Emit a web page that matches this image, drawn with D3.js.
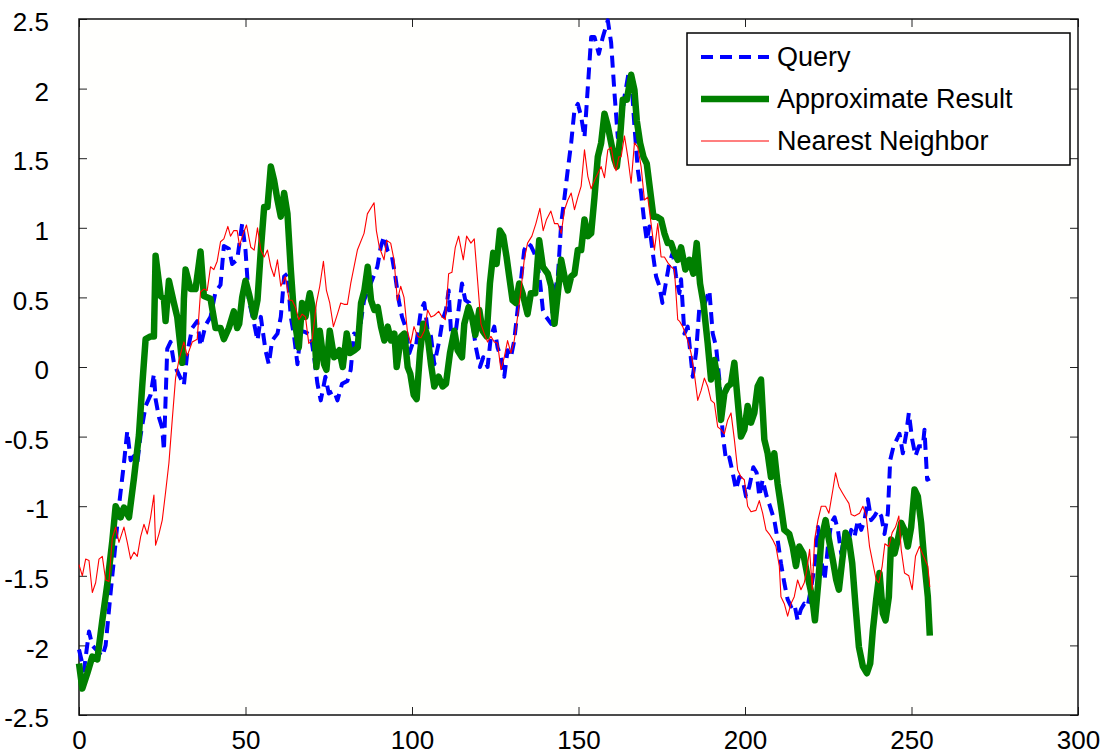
<!DOCTYPE html>
<html>
<head>
<meta charset="utf-8">
<script src="https://cdn.jsdelivr.net/npm/d3@7"></script>
<style>
  body { margin: 0; background: #fff; }
  text { font-family: "Liberation Sans", Arial, Helvetica, sans-serif; fill: #000; }
</style>
</head>
<body>
<svg id="chart"></svg>
<script>
// series, as [index, value]
const querySeries = [[0,-2.03],[1.5,-2.18],[3,-1.9],[4,-2.0],[7,-2.08],[8,-2.0],[9.5,-1.62],[11,-1.26],[12,-1.0],[13.5,-0.69],[14.5,-0.46],[15.5,-0.67],[16.5,-0.64],[17.5,-0.69],[18.5,-0.49],[20,-0.28],[21.5,-0.2],[22.5,-0.05],[23,-0.23],[24,-0.36],[25,-0.44],[25.5,-0.6],[26.5,0.13],[27.5,0.18],[28.5,0.03],[29.5,-0.03],[31.5,-0.13],[32.5,0.1],[34,0.28],[35.5,0.33],[36.5,0.15],[38,0.3],[39.5,0.36],[41,0.54],[42.5,0.59],[43.5,0.87],[45,0.85],[46,0.74],[47.5,0.77],[49,1.03],[50,0.84],[51,0.48],[52.6,0.31],[53.6,0.19],[54.6,0.36],[56,0.12],[57,0.02],[58,0.19],[59.6,0.24],[60.6,0.36],[61.6,0.65],[62.6,0.67],[63.6,0.36],[64.6,0.22],[65.6,0.02],[66.6,0.26],[68,0.25],[69.6,0.23],[70.6,0.07],[71.6,-0.12],[72.6,-0.24],[74,-0.07],[75,-0.19],[76.6,-0.17],[77.6,-0.24],[79,-0.12],[80.6,-0.1],[81.6,-0.02],[82.6,0.24],[84,0.22],[85.6,0.48],[87.6,0.6],[89.6,0.72],[90.6,0.86],[91.6,0.94],[92.6,0.84],[94,0.79],[95,0.65],[96,0.48],[97,0.36],[98,0.29],[99.2,0.1],[100.2,0.17],[101.2,0.15],[102.7,0.41],[103.7,0.46],[104.7,0.26],[105.7,0.22],[106.7,0.02],[108.2,0.19],[109.2,0.34],[110.2,0.41],[111,0.55],[111.7,0.26],[112.7,0.17],[113.7,0.36],[115,0.6],[116,0.48],[117.2,0.46],[118.2,0.31],[119.2,0.14],[120.4,0],[121.4,0.07],[122.7,0],[123.7,0.22],[124.7,0.29],[125.7,0.14],[126.7,0.07],[127.7,-0.07],[128.7,0.12],[129.7,0.07],[130.7,0.19],[131.7,0.41],[132.7,0.62],[133.7,0.84],[134.7,0.89],[135.7,0.87],[136.7,0.82],[137.7,0.74],[138.5,0.6],[139.3,0.41],[140.3,0.36],[141.8,0.31],[142.8,0.53],[143.8,0.65],[144.8,1.03],[145.8,1.22],[146.8,1.42],[147.8,1.61],[148.8,1.85],[149.8,1.89],[150.8,1.8],[151.8,1.65],[152.8,2.01],[153.8,2.37],[154.8,2.37],[156.1,2.25],[157.3,2.37],[158.8,2.49],[159.8,2.33],[160.8,1.97],[161.8,1.65],[162.8,1.73],[163.8,1.94],[165.1,2.12],[165.8,2.09],[166.8,1.73],[167.8,1.42],[168.8,1.25],[169.8,1.03],[170.5,0.91],[171.3,1.01],[172.3,0.82],[173.3,0.65],[174.3,0.58],[175.2,0.46],[176.2,0.6],[177.3,0.75],[178.3,0.82],[179.3,0.65],[180.3,0.53],[180.8,0.63],[181.8,0.24],[182.8,0.29],[184.3,-0.07],[185.3,0.1],[186.3,0.43],[187.8,0.45],[189.3,0.55],[190.3,0.24],[191.3,0.15],[192.3,-0.09],[193.3,-0.48],[194.3,-0.67],[195.3,-0.65],[196.3,-0.76],[197.3,-0.88],[198.3,-0.79],[199.3,-0.81],[200.3,-0.93],[201.3,-0.86],[202.5,-0.72],[203.5,-0.76],[204.3,-0.93],[205.3,-0.81],[206.5,-0.93],[207.5,-1.0],[208.8,-1.1],[209.8,-1.24],[210.8,-1.41],[211.8,-1.55],[212.8,-1.67],[213.8,-1.72],[214.8,-1.7],[215.8,-1.82],[216.8,-1.74],[217.8,-1.7],[218.8,-1.72],[219.9,-1.58],[220.9,-1.43],[221.9,-1.15],[222.9,-1.39],[223.9,-1.53],[224.9,-1.29],[225.9,-1.12],[226.9,-1.08],[227.9,-1.17],[228.9,-1.34],[229.9,-1.2],[230.9,-1.27],[231.9,-1.17],[232.9,-1.22],[233.9,-1.1],[234.9,-1.17],[235.9,-1.1],[236.9,-0.95],[237.9,-1.1],[238.9,-1.07],[239.9,-1.03],[240.9,-1.07],[241.9,-1.2],[242.9,-1.05],[243.6,-0.67],[244.6,-0.57],[245.6,-0.52],[246.4,-0.48],[247.4,-0.62],[248.4,-0.48],[249.2,-0.33],[250.2,-0.52],[251.2,-0.64],[252.2,-0.57],[253.4,-0.57],[253.9,-0.45],[254.7,-0.81],[255.5,-0.8]];

const approxSeries = [[0,-2.13],[1,-2.31],[2.5,-2.2],[4,-2.08],[5.5,-2.1],[7,-1.82],[8.5,-1.56],[10,-1.25],[11,-1.0],[12.5,-1.08],[13.5,-1.01],[15,-1.08],[16.5,-0.8],[18,-0.49],[19,-0.13],[20,0.2],[21.5,0.22],[22.5,0.22],[23,0.8],[24.5,0.51],[25.5,0.49],[26,0.33],[27,0.62],[28.5,0.46],[29.5,0.36],[31,0.03],[31.5,0.49],[32,0.7],[33.5,0.56],[35,0.56],[36.5,0.83],[37.5,0.51],[39.5,0.49],[41,0.28],[42.5,0.28],[43.5,0.2],[45,0.28],[46.5,0.4],[47.5,0.28],[48.1,0.31],[49,0.5],[50,0.62],[51,0.53],[52.6,0.36],[53.6,0.48],[54.6,0.84],[55.6,1.15],[56.6,1.15],[57.6,1.44],[58.6,1.34],[59.6,1.2],[60.6,1.08],[61.6,1.25],[62.6,1.1],[63.6,0.7],[64.6,0.36],[66,0.14],[67,0.46],[68,0.36],[69.3,0.53],[70.3,0.41],[71.3,0],[72.3,0.26],[73.6,0.02],[74.3,-0.02],[75.3,0.26],[76.6,0.07],[78.2,0.12],[79.2,0],[80.4,0.24],[81.4,0.1],[82.7,0.12],[83.7,0.14],[84.7,0.46],[85.7,0.55],[86.7,0.72],[87.7,0.48],[88.7,0.41],[89.7,0.43],[90.7,0.29],[91.7,0.19],[92.7,0.29],[93.7,0.19],[94.7,0.24],[95.4,0],[96.7,0.22],[97.7,0.24],[98.7,0],[99.5,-0.05],[100.5,-0.2],[101.4,-0.23],[102.4,0.1],[103.4,0.31],[104.7,0.22],[105.7,0.02],[106.7,-0.14],[108,-0.07],[109.2,-0.14],[110.2,-0.12],[111.4,0.1],[112.7,0.26],[113.7,0.12],[115,0.07],[115.7,0.31],[117,0.43],[118,0.36],[119,0.23],[120.2,0.41],[121.2,0.26],[122.4,0.22],[123.4,0.6],[124.4,0.82],[125.4,0.74],[126.4,0.98],[127.4,0.94],[128.4,0.79],[129.2,0.65],[130.2,0.48],[131.2,0.46],[132.2,0.6],[133.2,0.53],[134.7,0.38],[135.7,0.53],[137,0.53],[138.2,0.91],[139.3,0.72],[140.8,0.67],[141.8,0.58],[142.8,0.31],[143.8,0.53],[144.8,0.77],[145.8,0.65],[146.8,0.55],[147.8,0.65],[148.8,0.67],[149.8,0.84],[150.8,0.84],[151.8,1.06],[152.8,0.94],[153.8,0.96],[154.8,1.22],[155.8,1.51],[156.8,1.61],[157.8,1.82],[158.8,1.73],[159.8,1.61],[160.8,1.49],[161.5,1.44],[162.5,1.65],[163.3,1.92],[164.5,1.92],[165.8,2.1],[166.8,1.99],[167.5,1.77],[168.5,1.61],[169.5,1.51],[170.5,1.46],[171.5,1.27],[172.5,1.08],[173.5,1.08],[174.8,1.06],[175.8,0.96],[176.8,0.89],[177.8,0.89],[178.8,0.82],[179.8,0.77],[180.8,0.86],[182.1,0.7],[183.3,0.77],[184.5,0.67],[185.5,0.89],[186.5,0.6],[187.5,0.46],[188.8,0.17],[189.8,-0.09],[190.8,0.05],[191.8,-0.09],[192.8,-0.38],[193.8,-0.19],[194.8,-0.14],[195.8,-0.12],[196.8,0.03],[197.8,-0.24],[198.8,-0.5],[199.8,-0.45],[200.8,-0.28],[201.8,-0.4],[202.8,-0.33],[203.8,-0.14],[204.8,-0.09],[205.8,-0.52],[206.8,-0.62],[207.8,-0.79],[208.8,-0.62],[209.8,-0.84],[210.8,-1.0],[211.8,-1.17],[213.3,-1.2],[214.3,-1.29],[215.3,-1.43],[216.3,-1.29],[217.5,-1.34],[218.6,-1.48],[219.7,-1.6],[220.5,-1.72],[221,-1.82],[222,-1.55],[222.9,-1.24],[224.2,-1.1],[225.2,-1.24],[226.4,-1.39],[227.4,-1.53],[228.2,-1.6],[229.2,-1.39],[230.2,-1.19],[231.2,-1.24],[232.2,-1.41],[233.2,-1.72],[234.2,-2.01],[235.4,-2.15],[236.6,-2.2],[237.6,-2.13],[238.4,-1.89],[239.4,-1.67],[240.4,-1.48],[241.4,-1.77],[242.2,-1.82],[243.2,-1.65],[243.9,-1.24],[244.9,-1.34],[245.9,-1.24],[246.9,-1.12],[247.9,-1.17],[248.9,-1.29],[249.9,-1.15],[250.9,-0.88],[251.9,-0.93],[252.9,-1.12],[253.9,-1.41],[254.9,-1.65],[255.5,-1.93]];

const nearestSeries = [[0,-1.42],[1,-1.5],[2,-1.38],[3,-1.39],[4,-1.62],[5,-1.55],[6,-1.38],[7,-1.36],[8,-1.53],[9,-1.54],[10,-1.23],[11,-1.15],[12,-1.26],[13.5,-1.15],[14.5,-1.26],[15.5,-1.38],[16.5,-1.33],[17.5,-1.36],[18.5,-1.22],[19.5,-1.13],[20.5,-1.2],[21.5,-1.08],[22.5,-0.92],[23,-1.28],[24,-1.2],[25,-1.1],[26,-0.9],[27,-0.69],[28,-0.38],[29,-0.08],[30,0.05],[31.5,0.18],[32.5,0.08],[34,0.18],[35.5,0.2],[36.5,0.54],[37.5,0.56],[38.5,0.55],[39.5,0.72],[40.5,0.7],[41.5,0.76],[42.5,0.9],[43.5,0.92],[44.7,1.01],[45.5,0.94],[46.5,0.98],[47.5,0.98],[48.2,0.87],[49.2,0.95],[50.3,1.02],[51.6,0.86],[52.6,0.84],[53.6,1.0],[54.6,0.84],[55.6,0.79],[56.6,0.84],[57.6,0.72],[58.6,0.65],[59.6,0.77],[60.6,0.58],[62,0.65],[63.1,0.48],[64,0.48],[65,0.43],[66,0.34],[67,0.38],[68,0.36],[69,0.17],[70,0.19],[71.3,0.46],[72.3,0.58],[73.4,0.76],[74.3,0.55],[75.3,0.46],[76.4,0.29],[77.6,0.38],[78.6,0.46],[79.6,0.45],[80.6,0.45],[81.6,0.6],[83.6,0.84],[85.6,0.96],[86.6,1.1],[88.6,1.18],[89.3,0.98],[90.2,0.86],[91.6,0.77],[92.4,0.91],[93.6,0.89],[94.6,0.77],[95.6,0.48],[96.6,0.58],[97.6,0.5],[98.6,0.26],[99.6,0.17],[100.6,0.29],[101.7,0.22],[102.7,0.21],[103.7,0.26],[104.7,0.41],[105.7,0.36],[106.7,0.37],[108,0.4],[109,0.36],[110,0.34],[111,0.67],[112,0.68],[113,0.86],[114,0.94],[115.4,0.77],[116.4,0.94],[117.7,0.89],[118.7,0.92],[119.7,0.62],[120.7,0.31],[121.7,0.24],[122.7,0.18],[123.7,0.22],[124.7,0.18],[125.7,0.17],[126.7,-0.02],[127.7,0.07],[128.7,0.19],[129.7,0.1],[130.7,0.19],[131.7,0.36],[132.7,0.55],[133.7,0.77],[134.7,0.89],[136,0.94],[137.2,1.03],[138.4,1.14],[139.4,0.98],[140.4,1.06],[141.7,1.12],[142.8,1.03],[143.8,1.03],[144.8,0.96],[145.8,1.13],[146.8,1.2],[147.8,1.25],[148.8,1.13],[149.8,1.22],[150.8,1.3],[151.8,1.56],[152.8,1.37],[153.8,1.28],[154.8,1.34],[155.8,1.39],[156.8,1.44],[157.8,1.36],[158.8,1.56],[159.8,1.58],[160.8,1.44],[161.3,1.41],[162.1,1.51],[162.8,1.51],[163.8,1.66],[164.8,1.51],[165.8,1.32],[166.8,1.61],[167.8,1.58],[168.8,1.44],[169.8,1.2],[170.8,1.22],[171.8,1.03],[172.8,0.84],[173.8,1.03],[174.8,0.79],[175.8,0.79],[176.8,0.75],[177.8,0.72],[178.8,0.7],[179.8,0.34],[180.3,0.33],[181.3,0.29],[182.8,0.19],[183.8,0.1],[184.8,-0.05],[185.8,-0.24],[186.8,-0.17],[187.8,-0.08],[188.8,-0.14],[189.8,-0.24],[190.8,-0.26],[191.8,-0.43],[192.8,-0.45],[193.8,-0.48],[194.8,-0.38],[195.8,-0.33],[196.8,-0.52],[197.8,-0.74],[198.8,-0.79],[199.8,-0.81],[200.8,-1.0],[201.8,-1.04],[203.3,-1.03],[204.3,-0.96],[205.3,-1.05],[206.3,-1.17],[207.3,-1.2],[208.3,-1.24],[209.3,-1.29],[210.3,-1.43],[210.8,-1.65],[211.8,-1.7],[212.8,-1.79],[213.8,-1.7],[214.8,-1.65],[215.8,-1.53],[216.8,-1.6],[217.8,-1.55],[218.6,-1.45],[219.4,-1.31],[220.2,-1.6],[220.9,-1.24],[221.9,-1.1],[222.9,-1.0],[224.2,-1.0],[225.2,-1.05],[226.4,-0.88],[227.2,-0.76],[228.2,-0.86],[229.4,-0.91],[230.4,-0.95],[231.2,-0.98],[231.9,-1.06],[232.9,-1.07],[234.4,-1.05],[235.4,-1.0],[236.4,-1.07],[237.4,-1.29],[238.4,-1.41],[239.4,-1.53],[240.2,-1.55],[241.2,-1.43],[242,-1.27],[243.2,-1.29],[244.2,-1.19],[245.2,-1.15],[246.2,-1.07],[246.9,-1.31],[247.9,-1.48],[249.2,-1.5],[250.2,-1.6],[251.2,-1.36],[252.4,-1.29],[253.6,-1.36],[254.9,-1.43],[255.5,-1.58]];

const xTicks = [0, 50, 100, 150, 200, 250, 300];
const yTicks = [-2.5, -2, -1.5, -1, -0.5, 0, 0.5, 1, 1.5, 2, 2.5];
const seriesNames = ["Query", "Approximate Result", "Nearest Neighbor"];

const width = 1117, height = 756;
const margin = {top: 19, right: 39, bottom: 41, left: 79};
const innerW = width - margin.left - margin.right;
const innerH = height - margin.top - margin.bottom;

const svg = d3.select("#chart")
  .attr("width", width)
  .attr("height", height);

const g = svg.append("g")
  .attr("transform", `translate(${margin.left},${margin.top})`);

const x = d3.scaleLinear().domain([0, 300]).range([0, innerW]);
const y = d3.scaleLinear().domain([-2.5, 2.5]).range([innerH, 0]);

// plot background
g.append("rect")
  .attr("width", innerW)
  .attr("height", innerH)
  .attr("fill", "#fffffd");

// axes, ticks pointing inward on all four sides
const tickLen = 8;
const fmt = d => String(d);

const xAxisB = g.append("g")
  .attr("transform", `translate(0,${innerH})`)
  .call(d3.axisBottom(x).tickValues(xTicks).tickSizeInner(-tickLen).tickSizeOuter(0).tickPadding(14).tickFormat(fmt));
const xAxisT = g.append("g")
  .call(d3.axisTop(x).tickValues(xTicks).tickSizeInner(-tickLen).tickSizeOuter(0).tickFormat(""));
const yAxisL = g.append("g")
  .call(d3.axisLeft(y).tickValues(yTicks).tickSizeInner(-tickLen).tickSizeOuter(0).tickPadding(30).tickFormat(fmt));
const yAxisR = g.append("g")
  .attr("transform", `translate(${innerW},0)`)
  .call(d3.axisRight(y).tickValues(yTicks).tickSizeInner(-tickLen).tickSizeOuter(0).tickFormat(""));

[xAxisB, xAxisT, yAxisL, yAxisR].forEach(a => {
  a.select(".domain").remove();
  a.selectAll("line").attr("stroke", "#222").attr("stroke-width", 1);
  a.selectAll("text").style("font-size", "26px").attr("fill", "#000");
});
yAxisL.selectAll("text").attr("dy", "0.45em");
xAxisB.selectAll("text").attr("dy", "0.75em");

g.append("rect")
  .attr("width", innerW)
  .attr("height", innerH)
  .attr("fill", "none")
  .attr("stroke", "#111")
  .attr("stroke-width", 1.5);

const line = d3.line()
  .x(d => x(d[0]))
  .y(d => y(d[1]));

const styles = [
  {data: querySeries, color: "#0000ff", width: 4, dash: "12,7"},
  {data: approxSeries, color: "#008000", width: 6.5, dash: null},
  {data: nearestSeries, color: "#ff0000", width: 1.1, dash: null}
];

g.selectAll(".series")
  .data(styles)
  .join("path")
  .attr("class", "series")
  .attr("fill", "none")
  .attr("stroke", d => d.color)
  .attr("stroke-width", d => d.width)
  .attr("stroke-dasharray", d => d.dash)
  .attr("stroke-linejoin", "round")
  .attr("d", d => line(d.data));

// legend
const legend = svg.append("g").attr("transform", "translate(687,33)");
legend.append("rect")
  .attr("width", 383)
  .attr("height", 132)
  .attr("fill", "#fff")
  .attr("stroke", "#000")
  .attr("stroke-width", 1.5);

const rows = legend.selectAll(".row")
  .data(styles)
  .join("g")
  .attr("class", "row")
  .attr("transform", (d, i) => `translate(0,${24 + i * 42})`);

rows.append("line")
  .attr("x1", 14).attr("x2", 82)
  .attr("stroke", d => d.color)
  .attr("stroke-width", d => d.width)
  .attr("stroke-dasharray", d => d.dash);

rows.append("text")
  .attr("x", 90)
  .attr("dy", "0.35em")
  .style("font-size", "27px")
  .text((d, i) => seriesNames[i]);
</script>
</body>
</html>
